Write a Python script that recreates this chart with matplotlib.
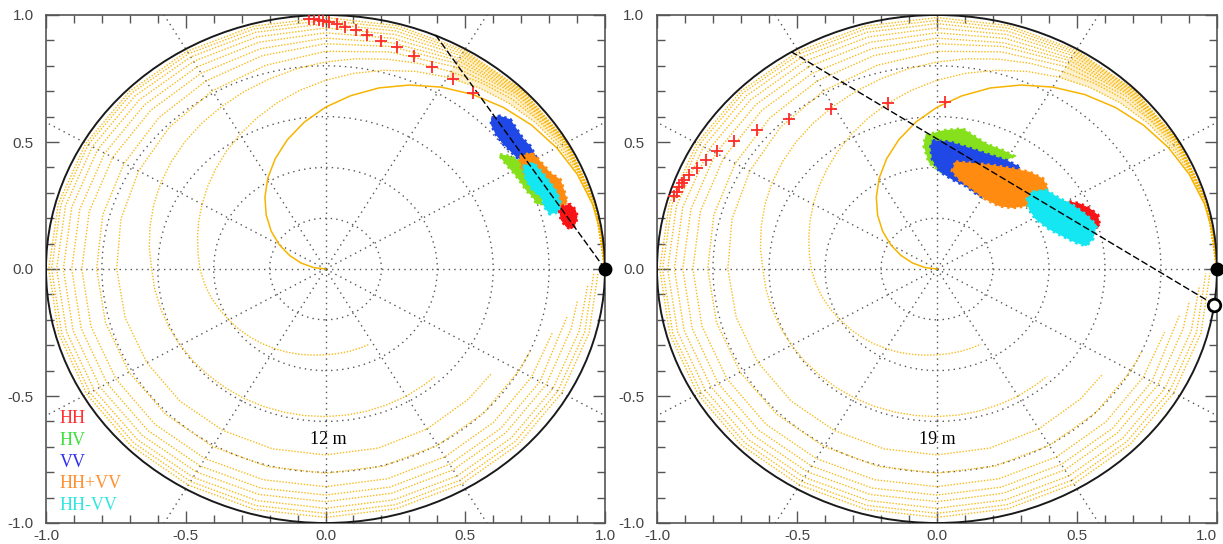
import matplotlib
matplotlib.use('Agg')
import matplotlib.pyplot as plt
from matplotlib.patches import Circle, Polygon
from matplotlib.ticker import MultipleLocator
import numpy as np

# orange model curves (same in both panels), radius read along the angle (deg)
# inner curves: every 7.5 deg, outer curves: every 15 deg, plus an end point
deg_fine = [0, 7.5, 15, 22.5, 30, 37.5, 45, 52.5, 60, 67.5, 75, 82.5, 90, 97.5, 105,
            112.5, 120, 127.5, 135, 142.5, 150, 157.5, 165, 172.5, 180, 187.5, 195,
            202.5, 210, 217.5, 225, 232.5, 240, 247.5, 255, 262.5, 270, 277.5, 285,
            292.5, 300, 307.5]
deg_coarse = [0, 15, 30, 45, 60, 75, 90, 105, 120, 135, 150, 165, 180,
              195, 210, 225, 240, 255, 270, 285, 300, 315, 330, 345]

spiral_a = [1.0, 0.997, 0.989, 0.975, 0.955, 0.93, 0.90, 0.866, 0.827, 0.784, 0.738,
            0.688, 0.637, 0.583, 0.527, 0.47, 0.413, 0.356, 0.30, 0.245, 0.191, 0.139,
            0.09, 0.043, 0.0]
spiral_b = [1.0, 0.998, 0.99, 0.98, 0.965, 0.947, 0.925, 0.90, 0.872, 0.842, 0.81,
            0.777, 0.743, 0.709, 0.676, 0.643, 0.612, 0.583, 0.556, 0.532, 0.51, 0.491,
            0.474, 0.46, 0.449, 0.437, 0.425, 0.412, 0.40, 0.39, 0.38, 0.371, 0.362,
            0.355, 0.348, 0.342, 0.338, 0.336, 0.335, 0.335]
spiral_c = [1.0, 0.999, 0.995, 0.986, 0.975, 0.961, 0.945, 0.922, 0.897, 0.876, 0.855,
            0.835, 0.815, 0.795, 0.775, 0.757, 0.74, 0.725, 0.71, 0.695, 0.68, 0.665,
            0.65, 0.636, 0.622, 0.616, 0.61, 0.605, 0.60, 0.596, 0.592, 0.589, 0.587,
            0.585, 0.583, 0.582, 0.581, 0.58, 0.579, 0.578, 0.578, 0.577]
spiral_d = [1.0, 0.997, 0.985, 0.96, 0.92, 0.885, 0.857, 0.83, 0.81, 0.79, 0.772, 0.758,
            0.747, 0.742, 0.738, 0.736, 0.734, 0.733, 0.732, 0.73, 0.727, 0.724]
spiral_e = [1.0, 0.998, 0.99, 0.97, 0.935, 0.907, 0.887, 0.87, 0.855, 0.843, 0.832, 0.825,
            0.819, 0.815, 0.812, 0.809, 0.807, 0.805, 0.804, 0.803, 0.802, 0.801, 0.80]
spiral_f = [1.0, 0.998, 0.992, 0.975, 0.948, 0.922, 0.909, 0.898, 0.89, 0.884, 0.879, 0.875,
            0.872, 0.869, 0.866, 0.864, 0.862, 0.859, 0.857, 0.855, 0.854, 0.852, 0.851]
spiral_g = [1.0, 0.999, 0.994, 0.98, 0.958, 0.94, 0.93, 0.924, 0.919, 0.915, 0.912, 0.91,
            0.908, 0.905, 0.902, 0.899, 0.896, 0.893, 0.89, 0.889, 0.888, 0.887, 0.886]
spiral_h = [1.0, 0.999, 0.996, 0.985, 0.97, 0.956, 0.949, 0.946, 0.944, 0.942, 0.941, 0.94,
            0.938, 0.935, 0.931, 0.927, 0.923, 0.919, 0.916, 0.914, 0.913, 0.912, 0.911, 0.91]
spiral_i = [1.0, 1.0, 0.997, 0.99, 0.979, 0.97, 0.966, 0.965, 0.964, 0.964, 0.963, 0.963,
            0.962, 0.959, 0.955, 0.951, 0.947, 0.944, 0.942, 0.941, 0.941, 0.94, 0.94, 0.94]
spiral_j = [1.0, 1.0, 0.998, 0.994, 0.987, 0.982, 0.979, 0.979, 0.979, 0.98, 0.98, 0.98,
            0.98, 0.977, 0.973, 0.969, 0.966, 0.964, 0.962, 0.961, 0.961, 0.96, 0.96, 0.96]
spiral_k = [1.0, 1.0, 0.999, 0.997, 0.994, 0.992, 0.99, 0.99, 0.99, 0.99, 0.99, 0.99,
            0.99, 0.988, 0.986, 0.984, 0.982, 0.98, 0.978, 0.977, 0.977, 0.976, 0.976, 0.976]
spiral_ends = [None, (298, 0.335), (313, 0.577), (325, 0.722), (336, 0.80), (343, 0.85),
               (348, 0.885), (352, 0.91), (356, 0.94), (359, 0.96), (359, 0.975)]

# left panel (12 m)
cross12_x = [-0.06, -0.04, -0.025, -0.008, 0.012, 0.04, 0.07, 0.109, 0.147, 0.197,
             0.255, 0.317, 0.381, 0.455, 0.527]
cross12_y = [0.985, 0.983, 0.981, 0.978, 0.972, 0.965, 0.954, 0.941, 0.922, 0.899,
             0.873, 0.839, 0.797, 0.748, 0.694]
line12 = [(1.0, 0.0), (0.388, 0.93)]

blue12 = [(0.595, 0.593), (0.624, 0.600), (0.660, 0.587), (0.684, 0.547), (0.708, 0.508),
          (0.732, 0.482), (0.750, 0.442), (0.708, 0.429), (0.684, 0.442), (0.660, 0.469),
          (0.636, 0.495), (0.613, 0.528), (0.595, 0.567)]
green12 = [(0.624, 0.449), (0.660, 0.442), (0.696, 0.422), (0.714, 0.390), (0.743, 0.350),
           (0.767, 0.311), (0.774, 0.259), (0.756, 0.259), (0.743, 0.285), (0.720, 0.311),
           (0.696, 0.350), (0.672, 0.383), (0.636, 0.429)]
orange12 = [(0.696, 0.442), (0.738, 0.455), (0.756, 0.436), (0.803, 0.377), (0.839, 0.350),
            (0.851, 0.311), (0.863, 0.265), (0.839, 0.245), (0.815, 0.272), (0.791, 0.285),
            (0.767, 0.324), (0.720, 0.363), (0.702, 0.403)]
cyan12 = [(0.708, 0.403), (0.743, 0.416), (0.774, 0.377), (0.803, 0.337), (0.827, 0.298),
          (0.839, 0.259), (0.833, 0.226), (0.803, 0.219), (0.785, 0.245), (0.774, 0.285),
          (0.743, 0.311), (0.720, 0.350)]
red12 = [(0.845, 0.245), (0.875, 0.252), (0.893, 0.232), (0.899, 0.206), (0.893, 0.180),
         (0.881, 0.160), (0.863, 0.167), (0.845, 0.193), (0.839, 0.226)]

# right panel (19 m)
cross19_x = [-0.938, -0.930, -0.920, -0.911, -0.903, -0.885, -0.858, -0.826, -0.784,
             -0.725, -0.642, -0.528, -0.377, -0.174, 0.030]
cross19_y = [0.289, 0.305, 0.322, 0.339, 0.351, 0.371, 0.398, 0.429, 0.463,
             0.503, 0.549, 0.592, 0.628, 0.652, 0.659]
line19 = [(0.99, -0.14), (-0.52, 0.855)]

green19 = [(-0.039, 0.524), (0.021, 0.543), (0.092, 0.550), (0.128, 0.524), (0.175, 0.491),
           (0.235, 0.465), (0.270, 0.445), (0.223, 0.413), (0.152, 0.387), (0.080, 0.367),
           (0.021, 0.380), (-0.027, 0.420), (-0.045, 0.485)]
blue19 = [(-0.015, 0.504), (0.045, 0.498), (0.104, 0.478), (0.175, 0.452), (0.247, 0.426),
          (0.294, 0.400), (0.282, 0.367), (0.247, 0.328), (0.199, 0.276), (0.152, 0.289),
          (0.104, 0.328), (0.056, 0.354), (0.009, 0.387), (-0.015, 0.432), (-0.021, 0.478)]
orange19 = [(0.068, 0.420), (0.140, 0.413), (0.199, 0.406), (0.270, 0.393), (0.330, 0.380),
            (0.377, 0.354), (0.395, 0.315), (0.365, 0.289), (0.342, 0.276), (0.318, 0.250),
            (0.270, 0.243), (0.223, 0.250), (0.175, 0.276), (0.128, 0.315), (0.080, 0.354),
            (0.056, 0.387)]
red19 = [(0.472, 0.263), (0.508, 0.256), (0.544, 0.237), (0.573, 0.211), (0.579, 0.171),
         (0.555, 0.159), (0.526, 0.165), (0.496, 0.185), (0.472, 0.217)]
cyan19 = [(0.342, 0.302), (0.389, 0.309), (0.437, 0.276), (0.484, 0.250), (0.532, 0.211),
          (0.568, 0.171), (0.555, 0.119), (0.532, 0.093), (0.496, 0.106), (0.448, 0.132),
          (0.401, 0.159), (0.354, 0.198), (0.330, 0.237), (0.324, 0.276)]

legend_labels = ['HH', 'HV', 'VV', 'HH+VV', 'HH-VV']
legend_colors = ['#ff3030', '#3ee03e', '#3030f0', '#ff9030', '#30e6e0']

C_BLUE, C_GREEN, C_ORANGE, C_CYAN, C_RED = '#1f48e6', '#86e01c', '#ff8c10', '#14e6f2', '#f81414'
GOLD = '#f7b400'

spirals = [spiral_a, spiral_b, spiral_c, spiral_d, spiral_e, spiral_f,
           spiral_g, spiral_h, spiral_i, spiral_j, spiral_k]


def polar_xy(deg, rad):
    t = np.deg2rad(deg)
    rad = np.asarray(rad)
    return rad * np.cos(t), rad * np.sin(t)


def draw_base(ax):
    # dotted polar grid
    for r in [0.2, 0.4, 0.6, 0.8]:
        ax.add_patch(Circle((0, 0), r, fill=False, ec='#555555', lw=1.0,
                            ls=(0, (1, 3)), zorder=1))
    for a in range(0, 360, 30):
        t = np.deg2rad(a)
        ax.plot([0, 2 * np.cos(t)], [0, 2 * np.sin(t)], color='#555555', lw=1.0,
                ls=(0, (1, 3)), zorder=1)

    # dense crescent where all model curves bunch together (between curve B and K)
    xb, yb = polar_xy(deg_fine[:9], spiral_b[:9])
    xk, yk = polar_xy(deg_coarse[:5][::-1], spiral_k[:5][::-1])
    ax.fill(np.concatenate([xb, xk]), np.concatenate([yb, yk]), color=GOLD,
            alpha=0.2, lw=0, zorder=2)

    # orange model curves
    for i, rad in enumerate(spirals):
        grid = deg_fine if i < 3 else deg_coarse
        deg = grid[:len(rad)]
        rr = list(rad)
        if spiral_ends[i] is not None:
            deg = deg + [spiral_ends[i][0]]
            rr = rr + [spiral_ends[i][1]]
        x, y = polar_xy(deg, rr)
        if i == 0:
            ax.plot(x, y, color=GOLD, lw=1.1, zorder=2)
        else:
            ax.plot(x, y, color=GOLD, lw=1.0, ls=(0, (1, 1.2)), alpha=0.9, zorder=2)

    ax.add_patch(Circle((0, 0), 1.0, fill=False, ec='#1a1a1a', lw=1.4, zorder=3))

    ax.set_xlim(-1, 1)
    ax.set_ylim(-1, 1)
    ax.xaxis.set_major_locator(MultipleLocator(0.5))
    ax.yaxis.set_major_locator(MultipleLocator(0.5))
    ax.xaxis.set_minor_locator(MultipleLocator(0.1))
    ax.yaxis.set_minor_locator(MultipleLocator(0.1))
    ax.xaxis.set_major_formatter(plt.FormatStrFormatter('%.1f'))
    ax.yaxis.set_major_formatter(plt.FormatStrFormatter('%.1f'))
    ax.tick_params(which='both', direction='in', top=True, right=True,
                   color='#555555', labelcolor='#444444', labelsize=11)
    ax.tick_params(which='major', length=9, width=1.0)
    ax.tick_params(which='minor', length=6, width=1.0)
    ax.tick_params(axis='y', pad=9)
    ax.tick_params(axis='x', pad=4)
    for lab in ax.get_xticklabels() + ax.get_yticklabels():
        lab.set_family('Liberation Sans')
    for s in ax.spines.values():
        s.set_color('#555555')
        s.set_linewidth(1.2)


def draw_cloud(ax, pts, color, z):
    # solid core plus a speckled rim
    ax.add_patch(Polygon(pts, closed=True, fc=color, ec=color, lw=1.0, zorder=z))
    ax.add_patch(Polygon(pts, closed=True, fill=False, ec=color, lw=3.0,
                         ls=(0, (0.6, 0.9)), zorder=z))


fig = plt.figure(figsize=(12.23, 5.44), dpi=100)
ax1 = fig.add_axes([46 / 1223, 21 / 544, 559 / 1223, 508 / 544])
ax2 = fig.add_axes([657 / 1223, 21 / 544, 560 / 1223, 508 / 544])

# ---- left: 12 m
draw_base(ax1)
draw_cloud(ax1, blue12, C_BLUE, 4)
draw_cloud(ax1, green12, C_GREEN, 4)
draw_cloud(ax1, orange12, C_ORANGE, 5)
draw_cloud(ax1, cyan12, C_CYAN, 6)
draw_cloud(ax1, red12, C_RED, 7)
ax1.plot([p[0] for p in line12], [p[1] for p in line12], color='black', lw=1.0,
         ls=(0, (5, 2)), zorder=8)
ax1.plot(cross12_x, cross12_y, '+', color='#ff2a2a', ms=8, mew=1.3, zorder=9)
ax1.plot([1.0], [0.0], 'o', color='black', ms=9, clip_on=False, zorder=10)
ax1.text(0.01, -0.67, '12 m', family='Liberation Serif', fontsize=13,
         ha='center', va='center', zorder=10)
for k, (lab, col) in enumerate(zip(legend_labels, legend_colors)):
    ax1.text(-0.95, -0.59 - 0.085 * k, lab, color=col, family='Liberation Serif',
             fontsize=13, ha='left', va='center', zorder=10)

# ---- right: 19 m
draw_base(ax2)
draw_cloud(ax2, green19, C_GREEN, 4)
draw_cloud(ax2, blue19, C_BLUE, 5)
draw_cloud(ax2, orange19, C_ORANGE, 6)
draw_cloud(ax2, red19, C_RED, 6)
draw_cloud(ax2, cyan19, C_CYAN, 7)
ax2.plot([p[0] for p in line19], [p[1] for p in line19], color='black', lw=1.0,
         ls=(0, (5, 2)), zorder=8)
ax2.plot(cross19_x, cross19_y, '+', color='#ff2a2a', ms=8, mew=1.3, zorder=9)
ax2.plot([1.0], [0.0], 'o', color='black', ms=9, clip_on=False, zorder=10)
ax2.plot([line19[0][0]], [line19[0][1]], 'o', mfc='white', mec='black', ms=9, mew=2,
         clip_on=False, zorder=10)
ax2.text(0.0, -0.67, '19 m', family='Liberation Serif', fontsize=13,
         ha='center', va='center', zorder=10)

# keep the "1.0" at the far right of the figure inside the picture
fig.canvas.draw()
for lab in ax2.get_xticklabels():
    if lab.get_text() == '1.0':
        lab.set_horizontalalignment('right')
        lab.set_x(1.0)

plt.savefig('out.png', dpi=100)
